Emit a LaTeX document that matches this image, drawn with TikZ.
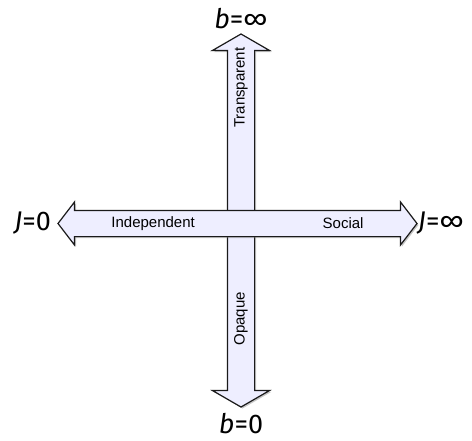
\documentclass[tikz,border=0pt]{standalone}
\usepackage{fontspec}
\setmainfont{Liberation Sans}
\newfontfamily\polefont{Fira Sans}
\usetikzlibrary{positioning, shapes.arrows, shadows}
\definecolor{lavender}{HTML}{EEEEFF}
\definecolor{edge}{HTML}{1A1A1A}

\begin{document}
\begin{tikzpicture}[
    axis/.style={double arrow, draw=edge, line width=1.2pt, fill=lavender, inner sep=0pt, minimum width=0pt,
        drop shadow={opacity=0.45, shadow xshift=1.5pt, shadow yshift=-1.5pt}},
    lbl/.style={inner sep=0pt, font=\fontsize{15}{18}\selectfont},
    pole/.style={inner sep=0pt, font=\polefont\fontsize{27}{32}\selectfont}
]
\useasboundingbox (0,0) rectangle (472pt,-440pt);

% vertical axis
\node[axis, rotate=90, minimum height=373pt, inner ysep=13pt,
      double arrow head extend=15pt, double arrow tip angle=120] (baxis) at (241pt,-220.5pt) {};
% horizontal axis, on top
\node[axis, minimum height=359pt, inner ysep=12.5pt,
      double arrow head extend=8.5pt, double arrow tip angle=105] (jaxis) at (237.5pt,-223.5pt) {};

% axis texts
\node[lbl, right=54pt of jaxis.west] (indep) {Independent};
\node[lbl, left=54pt of jaxis.east] (social) {Social};
\node[lbl, rotate=90, anchor=east] (transp) at ([yshift=-14pt]baxis.east) {Transparent};
\node[lbl, rotate=90, anchor=west] (opaque) at ([yshift=62pt]baxis.west) {Opaque};

% limits
\node[pole, left=6pt of jaxis.west] (jzero) {\textit{J}=0};
\node[pole, right=0pt of jaxis.east] (jinf) {\textit{J}=∞};
\node[pole, above=4pt of baxis.east] (binf) {\textit{b}=∞};
\node[pole, below=5pt of baxis.west] (bzero) {\textit{b}=0};

\end{tikzpicture}
\end{document}
